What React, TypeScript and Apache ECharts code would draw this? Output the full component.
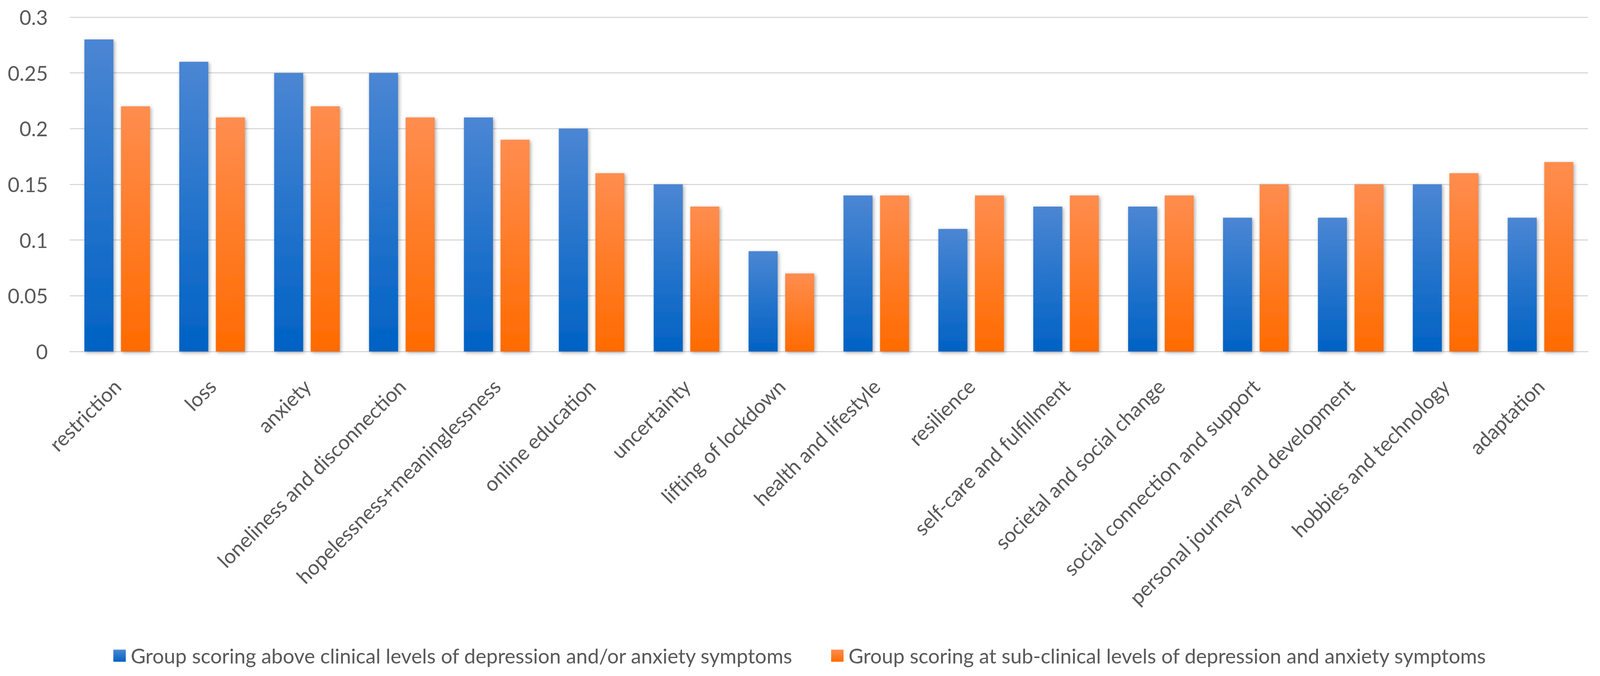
import React, { useEffect, useRef } from "react";
import * as echarts from "echarts";

const categories = [
  "restriction",
  "loss",
  "anxiety",
  "loneliness and disconnection",
  "hopelessness+meaninglessness",
  "online education",
  "uncertainty",
  "lifting of lockdown",
  "health and lifestyle",
  "resilience",
  "self-care and fulfillment",
  "societal and social change",
  "social connection and support",
  "personal journey and development",
  "hobbies and technology",
  "adaptation",
];

const clinicalName =
  "Group scoring above clinical levels of depression and/or anxiety symptoms";
const subClinicalName =
  "Group scoring at sub-clinical levels of depression and anxiety symptoms";

const clinicalValues = [0.28, 0.26, 0.25, 0.25, 0.21, 0.2, 0.15, 0.09, 0.14, 0.11, 0.13, 0.13, 0.12, 0.12, 0.15, 0.12];
const subClinicalValues = [0.22, 0.21, 0.22, 0.21, 0.19, 0.16, 0.13, 0.07, 0.14, 0.14, 0.14, 0.14, 0.15, 0.15, 0.16, 0.17];

const yMin = 0;
const yMax = 0.3;
const yInterval = 0.05;

const FONT = "Lato";
const TEXT = "#595959";
const REF_W = 4243;
const REF_H = 1731;

export default function App() {
  const ref = useRef<HTMLDivElement>(null);

  useEffect(() => {
    document.body.style.margin = "0";
    document.documentElement.style.overflow = "hidden";
    document.body.style.overflow = "hidden";
    const el = ref.current;
    if (!el) return;
    const W = el.clientWidth || REF_W;
    const H = el.clientHeight || REF_H;
    const sx = W / REF_W;
    const sy = H / REF_H;
    const sf = Math.min(sx, sy);

    const chart = echarts.init(el, undefined, { renderer: "svg", width: W, height: H });

    const blue = new echarts.graphic.LinearGradient(0, 0, 0, 1, [
      { offset: 0, color: "#4b86d3" },
      { offset: 1, color: "#0062c4" },
    ]);
    const orange = new echarts.graphic.LinearGradient(0, 0, 0, 1, [
      { offset: 0, color: "#ff8d4f" },
      { offset: 1, color: "#ff6b00" },
    ]);
    const shadow = {
      shadowColor: "rgba(0,0,0,0.35)",
      shadowBlur: 10 * sf,
      shadowOffsetX: 3 * sf,
      shadowOffsetY: 3 * sf,
    };
    const fs = 54 * sf;

    chart.setOption({
      animation: false,
      backgroundColor: "#ffffff",
      textStyle: { fontFamily: FONT },
      grid: {
        left: 185 * sx,
        right: 32 * sx,
        top: 44 * sy,
        bottom: 831 * sy,
        containLabel: false,
      },
      legend: {
        top: 1648 * sy,
        left: "center",
        icon: "rect",
        itemWidth: 33 * sf,
        itemHeight: 32 * sf,
        itemGap: 100 * sx,
        textStyle: {
          fontFamily: FONT,
          fontSize: fs,
          color: TEXT,
          padding: [0, 0, 0, 8 * sx],
        },
        data: [clinicalName, subClinicalName],
      },
      xAxis: {
        type: "category",
        data: categories,
        axisLine: { show: true, lineStyle: { color: "#d9d9d9", width: 3 * sf } },
        axisTick: { show: false },
        axisLabel: {
          rotate: 45,
          interval: 0,
          margin: 80 * sy,
          fontFamily: FONT,
          fontSize: fs,
          color: TEXT,
        },
      },
      yAxis: {
        type: "value",
        min: yMin,
        max: yMax,
        interval: yInterval,
        axisLine: { show: false },
        axisTick: { show: false },
        splitLine: { lineStyle: { color: "#d9d9d9", width: 3 * sf } },
        axisLabel: { margin: 58 * sx, fontFamily: FONT, fontSize: fs, color: TEXT },
      },
      series: [
        {
          name: clinicalName,
          type: "bar",
          data: clinicalValues,
          barWidth: 77 * sx,
          barGap: "26%",
          itemStyle: { color: blue, ...shadow },
        },
        {
          name: subClinicalName,
          type: "bar",
          data: subClinicalValues,
          barWidth: 77 * sx,
          barGap: "26%",
          itemStyle: { color: orange, ...shadow },
        },
      ],
    });

    return () => chart.dispose();
  }, []);

  return (
    <div
      ref={ref}
      style={{ width: "100vw", height: "100vh", position: "fixed", left: 0, top: 0 }}
    />
  );
}
